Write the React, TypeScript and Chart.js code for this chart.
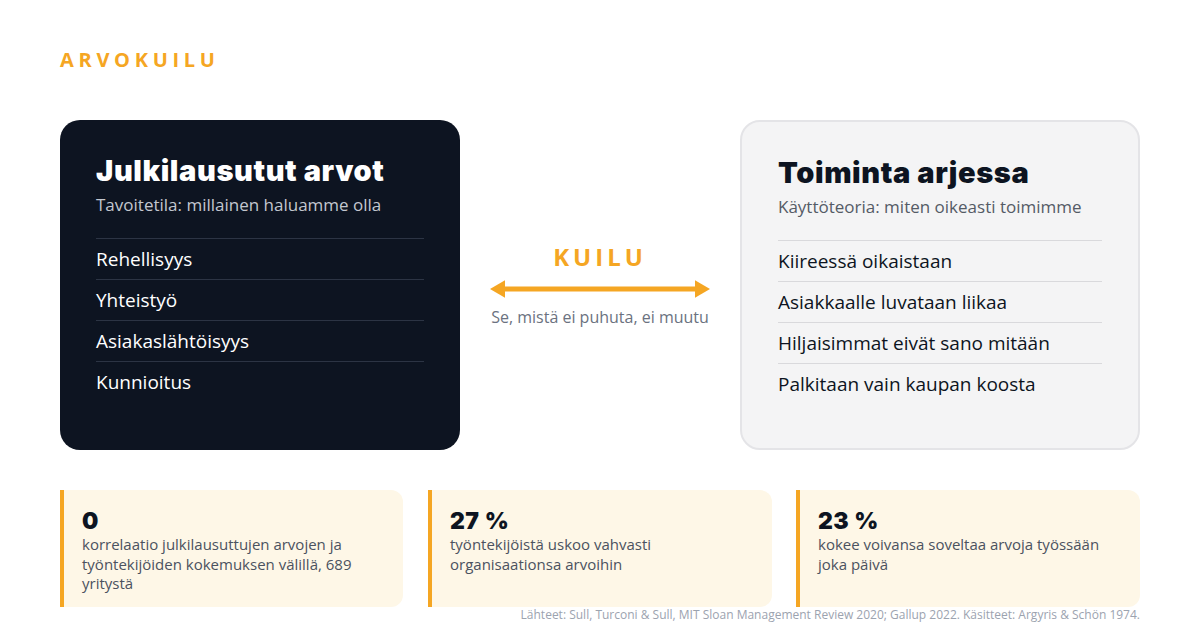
import Chart from "chart.js/auto";
import React, { useEffect, useRef } from "react";

const pageTitle = "ARVOKUILU";
const gapTitle = "KUILU";
const gapNote = "Se, mistä ei puhuta, ei muutu";

const statedTitle = "Julkilausutut arvot";
const statedSubtitle = "Tavoitetila: millainen haluamme olla";
const statedValues = ["Rehellisyys", "Yhteistyö", "Asiakaslähtöisyys", "Kunnioitus"];

const practiceTitle = "Toiminta arjessa";
const practiceSubtitle = "Käyttöteoria: miten oikeasti toimimme";
const practiceValues = [
  "Kiireessä oikaistaan",
  "Asiakkaalle luvataan liikaa",
  "Hiljaisimmat eivät sano mitään",
  "Palkitaan vain kaupan koosta",
];

const statNumbers = ["0", "27 %", "23 %"];
const statTexts = [
  "korrelaatio julkilausuttujen arvojen ja työntekijöiden kokemuksen välillä, 689 yritystä",
  "työntekijöistä uskoo vahvasti organisaationsa arvoihin",
  "kokee voivansa soveltaa arvoja työssään joka päivä",
];

const sourceNote =
  "Lähteet: Sull, Turconi & Sull, MIT Sloan Management Review 2020; Gallup 2022. Käsitteet: Argyris & Schön 1974.";

// arrow ends on a 0..1 scale
const arrowEnds = [0, 1];

const ORANGE = "#f5a623";
const NAVY = "#0d1421";
const HEAD = "'Inter', 'DejaVu Sans', sans-serif";
const BODY = "'Open Sans', 'Noto Sans', sans-serif";

const GapArrow: React.FC = () => {
  const ref = useRef<HTMLCanvasElement>(null);
  useEffect(() => {
    if (!ref.current) return;
    const chart = new Chart(ref.current, {
      type: "line",
      data: {
        datasets: [
          {
            data: arrowEnds.map((x) => ({ x, y: 0 })),
            borderColor: ORANGE,
            backgroundColor: ORANGE,
            borderWidth: 5,
            pointStyle: "triangle",
            rotation: [-90, 90],
            pointRadius: 10,
            pointBorderWidth: 0,
            clip: false,
          },
        ],
      },
      options: {
        animation: false,
        responsive: false,
        events: [],
        layout: { padding: { left: 9, right: 9, top: 0, bottom: 0 } },
        plugins: { legend: { display: false }, tooltip: { enabled: false } },
        scales: {
          x: { type: "linear", min: 0, max: 1, display: false },
          y: { min: -1, max: 1, display: false },
        },
      },
    });
    return () => chart.destroy();
  }, []);
  return (
    <canvas
      ref={ref}
      width={220}
      height={24}
      style={{ position: "absolute", left: 490, top: 277, width: 220, height: 24 }}
    />
  );
};

const ValueCard: React.FC<{
  left: number;
  dark: boolean;
  title: string;
  subtitle: string;
  items: string[];
}> = ({ left, dark, title, subtitle, items }) => {
  const lineColor = dark ? "#2c3444" : "#d9d9dc";
  return (
    <div
      style={{
        position: "absolute",
        left,
        top: 120,
        width: 400,
        height: 330,
        boxSizing: "border-box",
        borderRadius: 20,
        background: dark ? NAVY : "#f4f4f5",
        border: dark ? "none" : "2px solid #e4e4e7",
        padding: "34px 36px 0 36px",
        color: dark ? "#ffffff" : NAVY,
      }}
    >
      <div
        style={{
          fontFamily: HEAD,
          fontWeight: 900,
          fontSize: 29,
          lineHeight: "34px",
          letterSpacing: 0.6,
        }}
      >
        {title}
      </div>
      <div
        style={{
          fontFamily: BODY,
          fontSize: 17,
          lineHeight: "22px",
          marginTop: 6,
          color: dark ? "#c3c7cf" : "#545b66",
        }}
      >
        {subtitle}
      </div>
      <div style={{ marginTop: 22, borderTop: `1px solid ${lineColor}` }}>
        {items.map((it, i) => (
          <div
            key={it}
            style={{
              fontFamily: BODY,
              fontSize: 19,
              lineHeight: "40px",
              borderTop: i === 0 ? "none" : `1px solid ${lineColor}`,
            }}
          >
            {it}
          </div>
        ))}
      </div>
    </div>
  );
};

const StatCard: React.FC<{ left: number; width: number; num: string; text: string }> = ({
  left,
  width,
  num,
  text,
}) => (
  <div
    style={{
      position: "absolute",
      left,
      top: 490,
      width,
      height: 117,
      boxSizing: "border-box",
      background: "#fef7e7",
      borderLeft: `4px solid ${ORANGE}`,
      borderRadius: "0 12px 12px 0",
      padding: "17px 18px 0 18px",
    }}
  >
    <div
      style={{
        fontFamily: HEAD,
        fontWeight: 900,
        fontSize: 23,
        lineHeight: "28px",
        letterSpacing: 0.5,
        color: NAVY,
      }}
    >
      {num}
    </div>
    <div
      style={{
        fontFamily: BODY,
        fontSize: 15,
        lineHeight: "19.5px",
        color: "#4b5260",
        maxWidth: 290,
      }}
    >
      {text}
    </div>
  </div>
);

const App: React.FC = () => {
  useEffect(() => {
    document.body.style.margin = "0";
  }, []);
  const statLefts = [60, 428, 796];
  const statWidths = [343, 344, 344];
  return (
    <div style={{ position: "relative", width: 1200, height: 640, background: "#ffffff", overflow: "hidden" }}>
      <div
        style={{
          position: "absolute",
          left: 60,
          top: 46,
          fontFamily: BODY,
          fontWeight: 700,
          fontSize: 20,
          letterSpacing: 4.7,
          color: ORANGE,
          lineHeight: "28px",
        }}
      >
        {pageTitle}
      </div>

      <ValueCard left={60} dark title={statedTitle} subtitle={statedSubtitle} items={statedValues} />
      <ValueCard left={740} dark={false} title={practiceTitle} subtitle={practiceSubtitle} items={practiceValues} />

      <div
        style={{
          position: "absolute",
          left: 480,
          width: 240,
          top: 241,
          textAlign: "center",
          fontFamily: BODY,
          fontWeight: 700,
          fontSize: 24,
          letterSpacing: 4,
          lineHeight: "32px",
          color: ORANGE,
        }}
      >
        {gapTitle}
      </div>
      <GapArrow />
      <div
        style={{
          position: "absolute",
          left: 450,
          width: 300,
          top: 305,
          textAlign: "center",
          fontFamily: BODY,
          fontSize: 16,
          lineHeight: "24px",
          color: "#6b7280",
        }}
      >
        {gapNote}
      </div>

      {statNumbers.map((n, i) => (
        <StatCard key={n + i} left={statLefts[i]} width={statWidths[i]} num={n} text={statTexts[i]} />
      ))}

      <div
        style={{
          position: "absolute",
          right: 60,
          top: 606,
          fontFamily: BODY,
          fontSize: 12,
          lineHeight: "18px",
          color: "#9ca3af",
          whiteSpace: "nowrap",
        }}
      >
        {sourceNote}
      </div>
    </div>
  );
};

export default App;
